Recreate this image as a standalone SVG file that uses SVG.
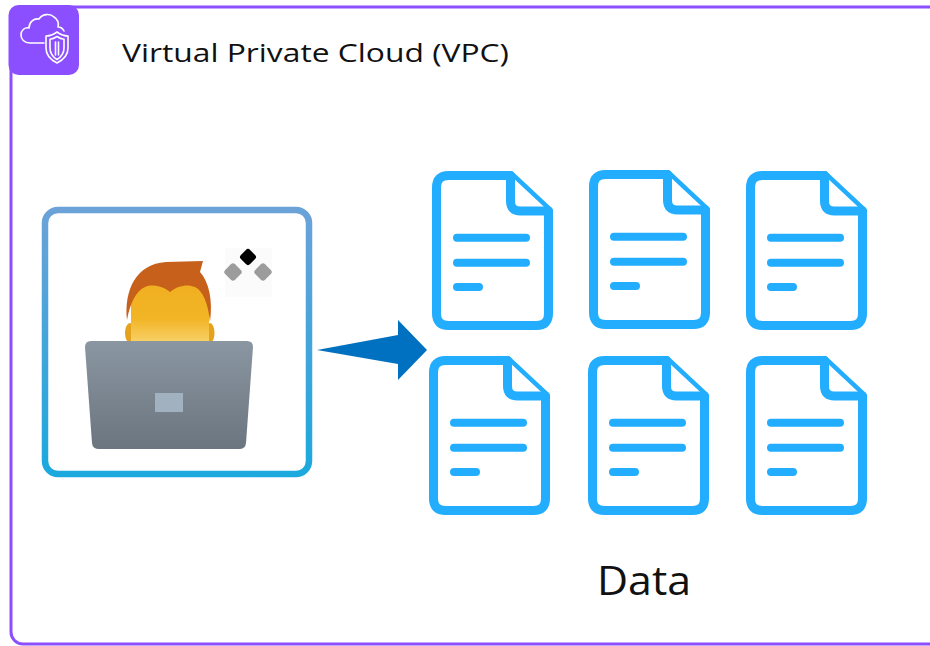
<svg xmlns="http://www.w3.org/2000/svg" width="930" height="646" viewBox="0 0 930 646">
  <style>
    .title { font-family: "Open Sans", "Liberation Sans", sans-serif; font-size: 26px; fill: #111; }
    .label { font-family: "Open Sans", "Liberation Sans", sans-serif; font-size: 41px; fill: #111; }
    .doc-outline { fill: #fff; stroke: #22adfe; stroke-width: 9; stroke-linejoin: round; stroke-linecap: round; }
    .doc-line { fill: none; stroke: #22adfe; stroke-width: 8; stroke-linecap: round; }
    .icon-line { fill: none; stroke: #fff; stroke-width: 1.6; stroke-linejoin: round; stroke-linecap: round; }
  </style>
  <defs>
    <linearGradient id="boxStroke" x1="0" y1="207" x2="0" y2="477" gradientUnits="userSpaceOnUse">
      <stop offset="0" stop-color="#6ca2d8"/>
      <stop offset="1" stop-color="#1aa9de"/>
    </linearGradient>
    <linearGradient id="face" x1="0" y1="280" x2="0" y2="345" gradientUnits="userSpaceOnUse">
      <stop offset="0" stop-color="#efae1f"/>
      <stop offset="0.6" stop-color="#f2b526"/>
      <stop offset="1" stop-color="#f8d470"/>
    </linearGradient>
    <linearGradient id="laptop" x1="0" y1="341" x2="0" y2="449" gradientUnits="userSpaceOnUse">
      <stop offset="0" stop-color="#8a96a1"/>
      <stop offset="1" stop-color="#6b7580"/>
    </linearGradient>
    <g id="doc">
      <path class="doc-outline" d="M16.5,4.5 H78.5 L116.5,40 V142.5 Q116.5,154.5 104.5,154.5 H16.5 Q4.5,154.5 4.5,142.5 V16.5 Q4.5,4.5 16.5,4.5 Z"/>
      <path class="doc-outline" d="M78.5,4.5 V30 Q78.5,40 88.5,40 H116.5"/>
      <path class="doc-line" d="M25,66.7 H94 M25,91.7 H94 M25,116 H47"/>
    </g>
  </defs>

  <rect width="930" height="646" fill="#fff"/>

  <!-- VPC group frame -->
  <g id="vpc">
    <rect x="11" y="7" width="940" height="637" rx="12" fill="none" stroke="#8c4fff" stroke-width="3"/>
    <rect x="8.5" y="5" width="70.5" height="70" rx="10" fill="#8c4fff"/>
    <!-- cloud with shield -->
    <path class="icon-line" d="M44,43 H30 C24,43 21,39 21,35 C21,30 25,27 29,28 C29,22 34,18 39,19 C42,14 50,13 54,17 C57,19 59,23 58,27 C61,27 63,29 64,31"/>
    <path class="icon-line" d="M57,32 C53,35 50,36 46,36 V48 C46,56 51,60 57,63 C63,60 68,56 68,48 V36 C64,36 61,35 57,32 Z"/>
    <path class="icon-line" d="M57,36.5 C54,38.5 52,39 50,39.2 V48 C50,54 53,57 57,59.5 C61,57 64,54 64,48 V39.2 C62,39 60,38.5 57,36.5 Z"/>
    <path class="icon-line" d="M55.5,42 V55 M58.5,42 V55"/>
    <text class="title" x="122" y="62" textLength="387" lengthAdjust="spacingAndGlyphs">Virtual Private Cloud (VPC)</text>
  </g>

  <!-- user working on laptop -->
  <g id="user">
    <rect x="45" y="210" width="264" height="264" rx="13" fill="#fff" stroke="url(#boxStroke)" stroke-width="6.5"/>
    <rect x="225" y="248" width="47" height="49" fill="#fbfbfb"/>
    <rect x="241.5" y="250.5" width="13" height="13" rx="3" transform="rotate(45 248 257)" fill="#000"/>
    <rect x="226" y="265" width="14" height="14" rx="3" transform="rotate(45 233 272)" fill="#9c9c9c"/>
    <rect x="256" y="265" width="14" height="14" rx="3" transform="rotate(45 263 272)" fill="#9c9c9c"/>
    <ellipse cx="130" cy="333" rx="5" ry="10" fill="#e5a21c"/>
    <ellipse cx="210" cy="333" rx="4.5" ry="10" fill="#e5a21c"/>
    <path d="M131,300 C131,288 140,282 150,282 H190 C200,282 209,288 209,300 V345 H131 Z" fill="url(#face)"/>
    <path d="M127,320 C124,290 136,264 166,262 L203,261 L200,272 C209,282 213,300 210,322 C208,303 203,291 195,287 C188,284 178,285 170,292 C163,286 152,284 145,287 C136,291 130,303 127,320 Z" fill="#c6601a"/>
    <path d="M91,341 H247 Q253,341 253,347 L246,443 Q245.5,449 239,449 H99 Q92.5,449 92,443 L85,347 Q85,341 91,341 Z" fill="url(#laptop)"/>
    <rect x="155" y="393" width="28" height="19" fill="#a2b1c0"/>
  </g>

  <!-- data documents -->
  <g id="data">
    <g id="doc-1"><use href="#doc" x="432" y="171"/></g>
    <g id="doc-2"><use href="#doc" x="589" y="170"/></g>
    <g id="doc-3"><use href="#doc" x="746" y="171"/></g>
    <g id="doc-4"><use href="#doc" x="429" y="356"/></g>
    <g id="doc-5"><use href="#doc" x="588" y="356"/></g>
    <g id="doc-6"><use href="#doc" x="746" y="356"/></g>
    <text class="label" x="597" y="595" textLength="94" lengthAdjust="spacingAndGlyphs">Data</text>
  </g>

  <!-- connectors -->
  <g id="connectors">
    <path d="M317,350 L398,335 V320 L427,350 L398,380 V364 Z" fill="#0070c0"/>
  </g>
</svg>
